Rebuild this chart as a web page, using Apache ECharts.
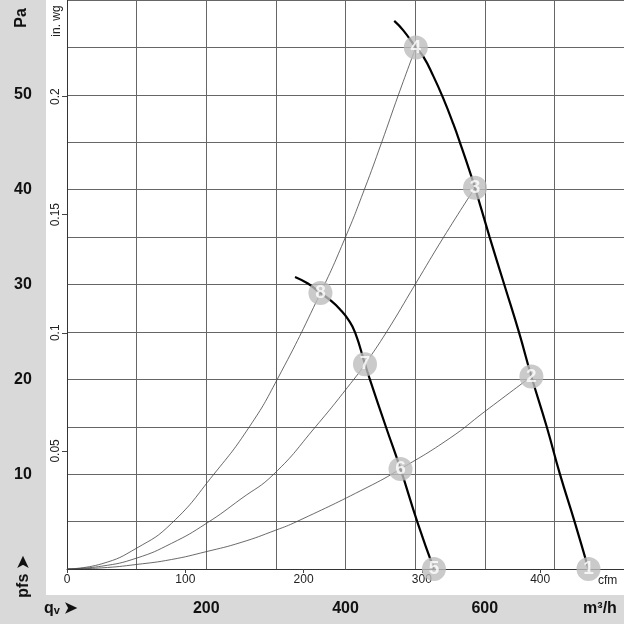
<!DOCTYPE html>
<html>
<head>
<meta charset="utf-8">
<script src="https://cdn.jsdelivr.net/npm/echarts@6/dist/echarts.min.js"></script>
<style>
html,body{margin:0;padding:0;background:#fff;}
#chart{width:624px;height:624px;}
</style>
</head>
<body>
<div id="chart"></div>
<script>
// ---- data ----
const flowTicks = [200, 400, 600];            // m³/h labels
const cfmTicks = [0, 100, 200, 300, 400];     // cfm labels
const paTicks = [10, 20, 30, 40, 50];         // Pa labels
const inwgTicks = [0.05, 0.1, 0.15, 0.2];     // in. wg labels
const CFM_TO_M3H = 1.699;
const INWG_TO_PA = 249.089;

// system (resistance) curves [m³/h, Pa]
const sysCurveA = [[0,0],[50,0.55],[100,2.2],[150,4.8],[211,10],[262,15],[302,20],[364,29.1],[400,35],[427,40],[452,45],[476,50],[501,55]];
const sysCurveB = [[0,0],[50,0.3],[100,1.15],[150,2.7],[200,4.8],[250,7.4],[297,10],[357,15],[412,20],[428,21.6],[459,25],[500,30],[541,35],[586,40.2]];
const sysCurveC = [[0,0],[50,0.12],[100,0.48],[150,1.0],[200,1.83],[250,2.8],[300,4.1],[330,5],[431,8.6],[479,10.55],[550,13.8],[600,16.6],[667,20.3]];

// fan curves [m³/h, Pa]
const fanCurveHigh = [[470,57.8],[483,56.8],[501,55],[512,54],[526,52.0],[540,49.7],[555,46.9],[567,44.4],[579,41.8],[586,40.2],[607,35],[628,30],[649,25],[667,20.3],[689,15],[708,10],[729,5],[749,0]];
const fanCurveLow = [[327.5,30.8],[346,30.1],[364,29.1],[379,28.3],[392,27.4],[404,26.3],[414,24.9],[428,21.6],[435,20],[458,15],[479,10.55],[503,5],[527,0]];

// operating points [m³/h, Pa, label]
const opPoints = [[749,0,'1'],[667,20.3,'2'],[586,40.2,'3'],[501,55,'4'],[527,0,'5'],[479,10.55,'6'],[428,21.6,'7'],[364,29.1,'8']];

const FONT = '"Liberation Sans", Arial, sans-serif';
const GRIDC = '#666';
const PANEL = '#d9d9d9';

const chart = echarts.init(document.getElementById('chart'), null, {renderer: 'canvas'});

const baseX = {type: 'value', min: 0, max: 800, gridIndex: 0};
const baseY = {type: 'value', min: 0, max: 60, gridIndex: 0};

const option = {
  animation: false,
  backgroundColor: '#fff',
  grid: {left: 67, top: 0, right: 0, bottom: 55, containLabel: false},
  xAxis: [
    Object.assign({}, baseX, {
      interval: 100, position: 'bottom',
      axisLine: {show: true, onZero: false, lineStyle: {color: '#333', width: 1}},
      axisTick: {show: false}, axisLabel: {show: false},
      splitLine: {show: true, lineStyle: {color: GRIDC, width: 1}}
    }),
    Object.assign({}, baseX, {
      position: 'bottom', z: 5,
      axisLine: {show: false, onZero: false},
      axisTick: {show: true, length: 4, inside: false, lineStyle: {color: '#444'},
                 customValues: cfmTicks.map(v => v * CFM_TO_M3H)},
      axisLabel: {show: true, margin: 5, color: '#222', fontSize: 12, fontFamily: FONT,
                  customValues: cfmTicks.map(v => v * CFM_TO_M3H),
                  formatter: v => String(Math.round(v / CFM_TO_M3H))},
      splitLine: {show: false}
    }),
    Object.assign({}, baseX, {
      position: 'bottom', z: 5,
      axisLine: {show: false, onZero: false},
      axisTick: {show: false},
      axisLabel: {show: true, margin: 32, color: '#111', fontSize: 16, fontWeight: 'bold', fontFamily: FONT,
                  customValues: flowTicks, formatter: v => String(v)},
      splitLine: {show: false}
    })
  ],
  yAxis: [
    Object.assign({}, baseY, {
      interval: 5, position: 'left',
      axisLine: {show: true, onZero: false, lineStyle: {color: '#333', width: 1}},
      axisTick: {show: false}, axisLabel: {show: false},
      splitLine: {show: true, lineStyle: {color: GRIDC, width: 1}}
    }),
    Object.assign({}, baseY, {
      position: 'left', z: 5,
      axisLine: {show: false, onZero: false},
      axisTick: {show: false},
      axisLabel: {show: true, margin: 44, align: 'center', color: '#111', fontSize: 16, fontWeight: 'bold', fontFamily: FONT,
                  customValues: paTicks, formatter: v => String(v)},
      splitLine: {show: false}
    }),
    Object.assign({}, baseY, {
      position: 'left', z: 5,
      axisLine: {show: false, onZero: false},
      axisTick: {show: true, length: 5, inside: false, lineStyle: {color: '#444'},
                 customValues: inwgTicks.map(v => v * INWG_TO_PA)},
      axisLabel: {show: true, margin: 5, rotate: 90, color: '#222', fontSize: 12, fontFamily: FONT,
                  customValues: inwgTicks.map(v => v * INWG_TO_PA),
                  formatter: v => String(Math.round(v / INWG_TO_PA * 100) / 100)},
      splitLine: {show: false}
    })
  ],
  graphic: [
    {type: 'rect', z: -10, shape: {x: 0, y: 0, width: 46, height: 595}, style: {fill: PANEL}},
    {type: 'rect', z: -10, shape: {x: 0, y: 595, width: 624, height: 29}, style: {fill: PANEL}},
    {type: 'text', x: 22, y: 18, rotation: Math.PI / 2, z: 10,
     style: {text: 'Pa', align: 'center', verticalAlign: 'middle', fill: '#111', font: 'bold 16px ' + FONT}},
    {type: 'text', x: 57, y: 21, rotation: Math.PI / 2, z: 10,
     style: {text: 'in. wg', align: 'center', verticalAlign: 'middle', fill: '#222', font: '12px ' + FONT}},
    {type: 'text', x: 24, y: 577, rotation: Math.PI / 2, z: 10,
     style: {text: 'pfs ➤', align: 'center', verticalAlign: 'middle', fill: '#111', font: 'bold 16px ' + FONT}},
    {type: 'text', x: 44, y: 609, z: 10,
     style: {text: '{q|q}{v|v}{a| ➤}', align: 'left', verticalAlign: 'middle',
             rich: {
               q: {fill: '#111', font: 'bold 16px ' + FONT},
               v: {fill: '#111', font: 'bold 11px ' + FONT, padding: [4, 0, 0, 0]},
               a: {fill: '#111', font: 'bold 16px ' + FONT}
             }}},
    {type: 'text', x: 600, y: 609, z: 10,
     style: {text: 'm³/h', align: 'center', verticalAlign: 'middle', fill: '#111', font: 'bold 16px ' + FONT}},
    {type: 'text', x: 598, y: 581, z: 10,
     style: {text: 'cfm', align: 'left', verticalAlign: 'middle', fill: '#222', font: '12px ' + FONT}}
  ],
  series: [
    {type: 'line', data: sysCurveA, smooth: 0.5, symbol: 'none', z: 2,
     lineStyle: {color: '#444', width: 0.8}},
    {type: 'line', data: sysCurveB, smooth: 0.5, symbol: 'none', z: 2,
     lineStyle: {color: '#444', width: 0.8}},
    {type: 'line', data: sysCurveC, smooth: 0.5, symbol: 'none', z: 2,
     lineStyle: {color: '#444', width: 0.8}},
    {type: 'line', data: fanCurveHigh, smooth: 0.5, symbol: 'none', z: 3,
     lineStyle: {color: '#000', width: 2.2}},
    {type: 'line', data: fanCurveLow, smooth: 0.5, symbol: 'none', z: 3,
     lineStyle: {color: '#000', width: 2.2}},
    {type: 'scatter', data: opPoints, symbol: 'circle', symbolSize: 24, clip: false, z: 6,
     itemStyle: {color: '#bdbdbd'},
     emphasis: {disabled: true},
     label: {show: true, position: ['50%', '50%'], align: 'center', verticalAlign: 'middle',
             color: '#ffffff', fontWeight: 'bold', fontSize: 19, fontFamily: FONT,
             textBorderWidth: 0, textBorderColor: 'transparent',
             formatter: p => p.data[2]}}
  ]
};
chart.setOption(option);
</script>
</body>
</html>
